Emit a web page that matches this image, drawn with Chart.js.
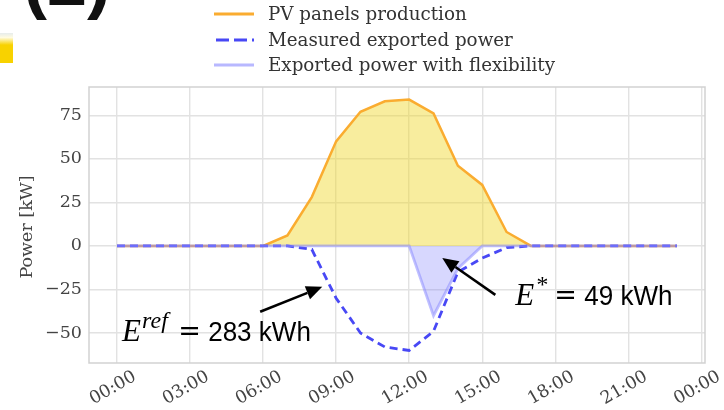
<!DOCTYPE html>
<html>
<head>
<meta charset="utf-8">
<script src="https://cdn.jsdelivr.net/npm/chart.js@4/dist/chart.umd.min.js"></script>
<style>
  html, body { margin: 0; padding: 0; background: #fff; }
  #wrap { width: 724px; height: 410px; }
</style>
</head>
<body>
<div id="wrap"><canvas id="c" width="724" height="410"></canvas></div>
<script>
// Hourly profile of one day (hour of day, power in kW)
const hours = [0, 1, 2, 3, 4, 5, 6, 7, 8, 9, 10, 11, 12, 13, 14, 15, 16, 17, 18, 19, 20, 21, 22, 23];
const pvProduction   = [0, 0, 0, 0, 0, 0, 0, 6, 28, 60, 77, 83, 84, 76, 46, 35, 8, 0, 0, 0, 0, 0, 0, 0];
const measuredExport = [0, 0, 0, 0, 0, 0, 0, 0, -2, -30, -50, -58, -60, -49, -15, -7, -1, 0, 0, 0, 0, 0, 0, 0];
const flexExport     = [0, 0, 0, 0, 0, 0, 0, 0, 0, 0, 0, 0, 0, -40, -13, 0, 0, 0, 0, 0, 0, 0, 0, 0];

const seriesNames = ['PV panels production', 'Measured exported power', 'Exported power with flexibility'];

const xTickHours  = [0, 3, 6, 9, 12, 15, 18, 21, 24];
const xTickLabels = ['00:00', '03:00', '06:00', '09:00', '12:00', '15:00', '18:00', '21:00', '00:00'];
const yTicks      = [-50, -25, 0, 25, 50, 75];

// Exported energy over the day, without and with flexibility (kWh)
const energyRef  = 283;
const energyFlex = 49;

const pts = arr => hours.map((h, i) => ({ x: h, y: arr[i] }));

const SERIF = '"DejaVu Serif", serif';
const TICK_COLOR = '#444';

const decorations = {
  id: 'decorations',
  afterDraw(chart) {
    const ctx = chart.ctx;
    const xs = chart.scales.x, ys = chart.scales.y;
    const area = chart.chartArea;

    // plot frame
    ctx.save();
    ctx.strokeStyle = '#d2d2d2';
    ctx.lineWidth = 1.5;
    ctx.strokeRect(area.left, area.top, area.right - area.left, area.bottom - area.top);
    ctx.restore();

    // x tick labels, rotated and centred on their ticks
    ctx.save();
    ctx.font = '17.5px ' + SERIF;
    ctx.fillStyle = TICK_COLOR;
    ctx.textAlign = 'center';
    ctx.textBaseline = 'middle';
    xTickHours.forEach((h, i) => {
      const px = xs.getPixelForValue(h);
      ctx.save();
      ctx.translate(px - 4, area.bottom + 25);
      ctx.rotate(-Math.PI / 6);
      ctx.fillText(xTickLabels[i], 0, 0);
      ctx.restore();
    });
    ctx.restore();

    // y axis title
    ctx.save();
    ctx.font = '17.5px ' + SERIF;
    ctx.fillStyle = TICK_COLOR;
    ctx.textAlign = 'center';
    ctx.textBaseline = 'middle';
    ctx.translate(27, (area.top + area.bottom) / 2 + 2);
    ctx.rotate(-Math.PI / 2);
    ctx.fillText('Power [kW]', 0, 0);
    ctx.restore();

    // legend, one entry per row
    ctx.save();
    const rows = [14, 40, 65];
    chart.data.datasets.forEach((ds, i) => {
      const y = rows[i];
      const dashed = ds.borderDash && ds.borderDash.length;
      ctx.beginPath();
      ctx.strokeStyle = ds.legendColor || ds.borderColor;
      ctx.lineWidth = 3;
      ctx.lineCap = 'butt';
      ctx.setLineDash(dashed ? [13, 5] : []);
      ctx.moveTo(dashed ? 216 : 214, y);
      ctx.lineTo(254, y);
      ctx.stroke();
      ctx.setLineDash([]);
      ctx.font = '18.3px ' + SERIF;
      ctx.fillStyle = '#333';
      ctx.textAlign = 'left';
      ctx.textBaseline = 'middle';
      ctx.fillText(ds.label, 268, y + 1);
    });
    ctx.restore();

    // arrows and energy labels
    const P = (h, v) => [xs.getPixelForValue(h), ys.getPixelForValue(v)];
    drawArrow(ctx, P(5.88, -37.8), P(8.43, -23.5));
    drawArrow(ctx, P(15.54, -28.1), P(13.36, -6.9));
    drawEnergy(ctx, P(0.21, -54.4), 'ref', energyRef);
    drawEnergy(ctx, P(16.36, -33.8), '*', energyFlex);

    // panel label of the figure and colour swatch at the left margin
    ctx.save();
    ctx.font = 'bold 72px "Liberation Sans", Arial, sans-serif';
    ctx.fillStyle = '#111';
    ctx.textAlign = 'left';
    ctx.textBaseline = 'alphabetic';
    ctx.fillText('(2)', 23, 5);
    const g = ctx.createLinearGradient(0, 33, 0, 63);
    g.addColorStop(0, '#e6ecec');
    g.addColorStop(0.15, '#fffbe0');
    g.addColorStop(0.4, '#f8d200');
    g.addColorStop(1, '#f8d200');
    ctx.fillStyle = g;
    ctx.fillRect(0, 33, 13, 30);
    ctx.restore();
  }
};

function drawArrow(ctx, from, to) {
  const [x0, y0] = from, [x1, y1] = to;
  const ang = Math.atan2(y1 - y0, x1 - x0);
  const headLen = 16, headW = 7;
  const bx = x1 - headLen * Math.cos(ang), by = y1 - headLen * Math.sin(ang);
  ctx.save();
  ctx.strokeStyle = '#000';
  ctx.fillStyle = '#000';
  ctx.lineWidth = 2.5;
  ctx.beginPath();
  ctx.moveTo(x0, y0);
  ctx.lineTo(bx, by);
  ctx.stroke();
  ctx.beginPath();
  ctx.moveTo(x1, y1);
  ctx.lineTo(bx + headW * Math.sin(ang), by - headW * Math.cos(ang));
  ctx.lineTo(bx - headW * Math.sin(ang), by + headW * Math.cos(ang));
  ctx.closePath();
  ctx.fill();
  ctx.restore();
}

// "E^sup = value kWh", spaced on the glyph outlines
function drawEnergy(ctx, pos, sup, value) {
  let [x, y] = pos;
  ctx.save();
  ctx.fillStyle = '#000';
  ctx.textAlign = 'left';
  ctx.textBaseline = 'alphabetic';
  ctx.font = 'italic 31px "Liberation Serif", serif';
  ctx.fillText('E', x, y);
  x += ctx.measureText('E').width + 1;
  ctx.font = 'italic 24px "Liberation Serif", serif';
  ctx.fillText(sup, x, y - 13);
  x += ctx.measureText(sup).actualBoundingBoxRight + 9;
  ctx.font = '27px "DejaVu Serif", serif';
  const eq = ctx.measureText('=');
  x += eq.actualBoundingBoxLeft;
  ctx.fillText('=', x, y - 1);
  x += eq.actualBoundingBoxRight + 10;
  ctx.font = '28px "Liberation Sans", Arial, sans-serif';
  ctx.translate(x, y);
  ctx.scale(0.93, 1);
  ctx.fillText(value + ' kWh', 0, 0);
  ctx.restore();
}

new Chart(document.getElementById('c'), {
  type: 'line',
  data: {
    datasets: [
      {
        label: seriesNames[0],
        data: pts(pvProduction),
        borderColor: 'rgb(250,172,48)',
        backgroundColor: 'rgba(240,214,40,0.45)',
        borderWidth: 2.5,
        fill: 'origin',
        order: 3
      },
      {
        label: seriesNames[1],
        data: pts(measuredExport),
        borderColor: 'rgb(72,72,245)',
        borderWidth: 2.8,
        borderDash: [8, 5],
        fill: false,
        order: 2
      },
      {
        label: seriesNames[2],
        data: pts(flexExport),
        borderColor: 'rgba(140,140,255,0.55)',
        legendColor: 'rgba(160,160,255,0.75)',
        backgroundColor: 'rgba(110,110,250,0.28)',
        borderWidth: 2.8,
        fill: 'origin',
        order: 1
      }
    ]
  },
  options: {
    responsive: false,
    animation: false,
    devicePixelRatio: 1,
    layout: { padding: { top: 87, right: 19, left: 0, bottom: 0 } },
    elements: { point: { radius: 0 }, line: { tension: 0 } },
    plugins: { legend: { display: false }, tooltip: { enabled: false } },
    scales: {
      x: {
        type: 'linear',
        min: -1.15,
        max: 24.15,
        afterBuildTicks: s => { s.ticks = xTickHours.map(v => ({ value: v })); },
        afterFit: s => { s.height = 47; },
        ticks: { display: false },
        grid: { color: '#e2e2e2', lineWidth: 1.4, drawTicks: false },
        border: { display: false }
      },
      y: {
        min: -67.2,
        max: 91.2,
        afterBuildTicks: s => { s.ticks = yTicks.map(v => ({ value: v })); },
        afterFit: s => { s.width = 89; },
        ticks: {
          font: { family: 'DejaVu Serif', size: 17.5 },
          color: TICK_COLOR,
          padding: 7,
          callback: v => (v < 0 ? '\u2212' + Math.abs(v) : String(v))
        },
        grid: { color: '#e2e2e2', lineWidth: 1.4, drawTicks: false },
        border: { display: false }
      }
    }
  },
  plugins: [decorations]
});
</script>
</body>
</html>
